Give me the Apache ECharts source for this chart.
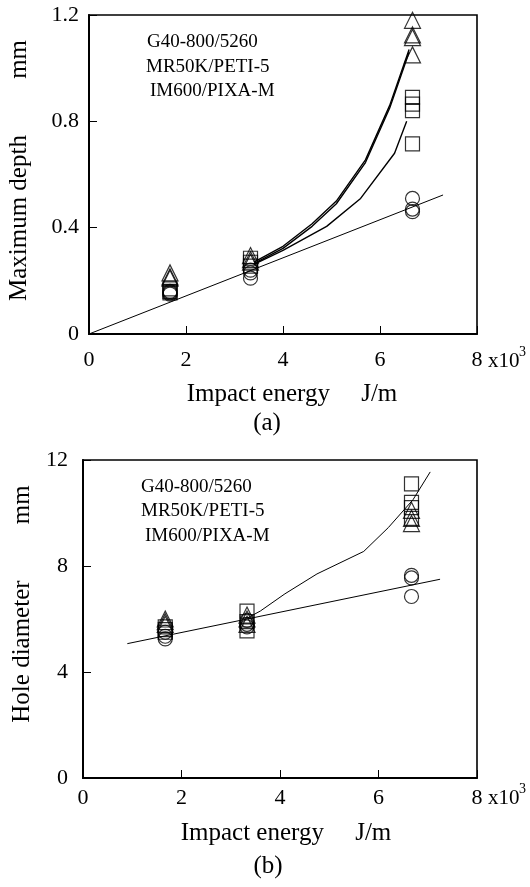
<!DOCTYPE html>
<html><head><meta charset="utf-8">
<script src="https://cdn.jsdelivr.net/npm/echarts@6/dist/echarts.min.js"></script>
<style>html,body{margin:0;padding:0;background:#fff}#c{width:530px;height:887px}</style>
</head><body><div id="c"></div>
<script>
// ---- data ----
const energyLevels = [1.67, 3.33, 6.67];           // x10^3 J/m
const xTicks = [0, 2, 4, 6, 8];
const legendNames = ['G40-800/5260', 'MR50K/PETI-5', 'IM600/PIXA-M'];

// (a) maximum depth, mm (per energy level)
const depthCircles   = [[0.16, 0.155, 0.15], [0.24, 0.23, 0.21], [0.51, 0.47, 0.46]];
const depthSquares   = [[0.17, 0.16, 0.155], [0.285, 0.27, 0.255], [0.89, 0.865, 0.84, 0.715]];
const depthTriangles = [[0.23, 0.215, 0.21], [0.295, 0.28, 0.27], [1.18, 1.125, 1.115, 1.05]];
const depthLineX = [0, 7.3];
const depthLineY = [0, 0.523];
const depthFit1X = [3.4, 4.0, 4.6, 5.1, 5.7, 6.2, 6.6];
const depthFit1Y = [0.27, 0.33, 0.415, 0.50, 0.655, 0.86, 1.07];
const depthFit2X = [3.4, 4.0, 4.6, 5.1, 5.7, 6.2, 6.6];
const depthFit2Y = [0.265, 0.322, 0.405, 0.49, 0.645, 0.85, 1.06];
const depthFit3X = [3.4, 4.0, 4.9, 5.6, 6.3, 6.55];
const depthFit3Y = [0.262, 0.315, 0.405, 0.51, 0.68, 0.80];

// (b) hole diameter, mm
const holeCircles   = [[5.5, 5.35, 5.25], [5.95, 5.8, 5.7], [7.65, 7.55, 6.85]];
const holeSquares   = [[5.7, 5.6, 5.5], [6.3, 5.9, 5.55], [11.1, 10.4, 10.2, 9.8]];
const holeTriangles = [[6.0, 5.9, 5.8], [6.15, 6.0, 5.8], [10.1, 9.8, 9.6]];
const holeLineX = [0.9, 7.25];
const holeLineY = [5.07, 7.5];
const holeFitX = [3.35, 3.6, 4.1, 4.75, 5.7, 6.2, 6.7, 7.05];
const holeFitY = [6.05, 6.3, 6.95, 7.7, 8.55, 9.45, 10.5, 11.55];

// ---- build ----
const FONT = '"Liberation Serif", "Times New Roman", serif';
function pts(levels) { return energyLevels.flatMap((e, i) => levels[i].map(v => [e, v])); }
function pairs(xs, ys) { return xs.map((x, i) => [x, ys[i]]); }
const markStyle = { color: 'rgba(0,0,0,0)', borderColor: '#000', borderWidth: 1.2 };
function scatter(idx, data, symbol, size) {
  return { type: 'scatter', xAxisIndex: idx, yAxisIndex: idx, data: data, symbol: symbol,
    symbolSize: size, itemStyle: markStyle, silent: true, z: 3 };
}
function line(idx, data, w) {
  return { type: 'line', xAxisIndex: idx, yAxisIndex: idx, data: data, showSymbol: false,
    symbol: 'none', lineStyle: { color: '#000', width: w }, silent: true, z: 2 };
}
function xAxis(gi, labelMargin, nameGap, namePad) {
  return { type: 'value', gridIndex: gi, min: 0, max: 8, interval: 2,
    name: 'Impact energy     J/m', nameLocation: 'middle', nameGap: nameGap,
    nameTextStyle: { fontFamily: FONT, fontSize: 25, color: '#000', padding: namePad },
    axisLine: { show: true, onZero: false, lineStyle: { color: '#000', width: 2 } },
    axisTick: { show: true, inside: true, length: 8, lineStyle: { color: '#000', width: 1 } },
    axisLabel: { show: true, margin: labelMargin, fontFamily: FONT, fontSize: 22, color: '#000',
      formatter: v => xTicks.includes(v) ? String(v) : '' },
    splitLine: { show: false } };
}
function yAxis(gi, max, interval, name, labelMargin, nameGap, namePad) {
  return { type: 'value', gridIndex: gi, min: 0, max: max, interval: interval,
    name: name, nameLocation: 'middle', nameGap: nameGap, nameRotate: 90,
    nameTextStyle: { fontFamily: FONT, fontSize: 25, color: '#000', padding: namePad },
    axisLine: { show: true, onZero: false, lineStyle: { color: '#000', width: 2 } },
    axisTick: { show: true, inside: true, length: 8, lineStyle: { color: '#000', width: 1 } },
    axisLabel: { show: true, margin: labelMargin, fontFamily: FONT, fontSize: 22, color: '#000' },
    splitLine: { show: false } };
}
function txt(x, y, s, size, align) {
  return { type: 'text', x: x, y: y, silent: true,
    style: { text: s, fontFamily: FONT, fontSize: size, fill: '#000', align: align || 'left', verticalAlign: 'middle' } };
}

const chart = echarts.init(document.getElementById('c'), null, { renderer: 'canvas' });
chart.setOption({
  animation: false,
  backgroundColor: '#fff',
  grid: [
    { left: 89, top: 15, width: 388, height: 319, show: true, borderColor: '#000', borderWidth: 1.6, containLabel: false, outerBoundsMode: 'none' },
    { left: 83, top: 460, width: 394, height: 318, show: true, borderColor: '#000', borderWidth: 1.6, containLabel: false, outerBoundsMode: 'none' }
  ],
  xAxis: [ xAxis(0, 15, 48, [0, 0, 0, 18]), xAxis(1, 9, 43, [0, 0, 0, 12]) ],
  yAxis: [
    yAxis(0, 1.2, 0.4, 'Maximum depth         mm', 10, 57, [0, 0, 0, 8]),
    yAxis(1, 12, 4, 'Hole diameter         mm', 15, 46, [0, 0, 0, 30])
  ],
  series: [
    line(0, pairs(depthLineX, depthLineY), 1),
    line(0, pairs(depthFit1X, depthFit1Y), 1.4),
    line(0, pairs(depthFit2X, depthFit2Y), 1.4),
    line(0, pairs(depthFit3X, depthFit3Y), 1.4),
    scatter(0, pts(depthCircles), 'circle', 14),
    scatter(0, pts(depthSquares), 'rect', 14),
    scatter(0, pts(depthTriangles), 'triangle', 16),
    line(1, pairs(holeLineX, holeLineY), 1),
    line(1, pairs(holeFitX, holeFitY), 1),
    scatter(1, pts(holeCircles), 'circle', 14),
    scatter(1, pts(holeSquares), 'rect', 14),
    scatter(1, pts(holeTriangles), 'triangle', 16)
  ],
  graphic: [
    txt(147, 42, legendNames[0], 19), txt(146, 67, legendNames[1], 19), txt(150, 91, legendNames[2], 19),
    txt(141, 487, legendNames[0], 19), txt(141, 511, legendNames[1], 19), txt(145, 536, legendNames[2], 19),
    txt(488, 361, 'x10', 21), txt(519, 352, '3', 14),
    txt(488, 798, 'x10', 21), txt(519, 789, '3', 14),
    txt(267, 423, '(a)', 25, 'center'), txt(268, 866, '(b)', 25, 'center')
  ]
});
</script></body></html>
